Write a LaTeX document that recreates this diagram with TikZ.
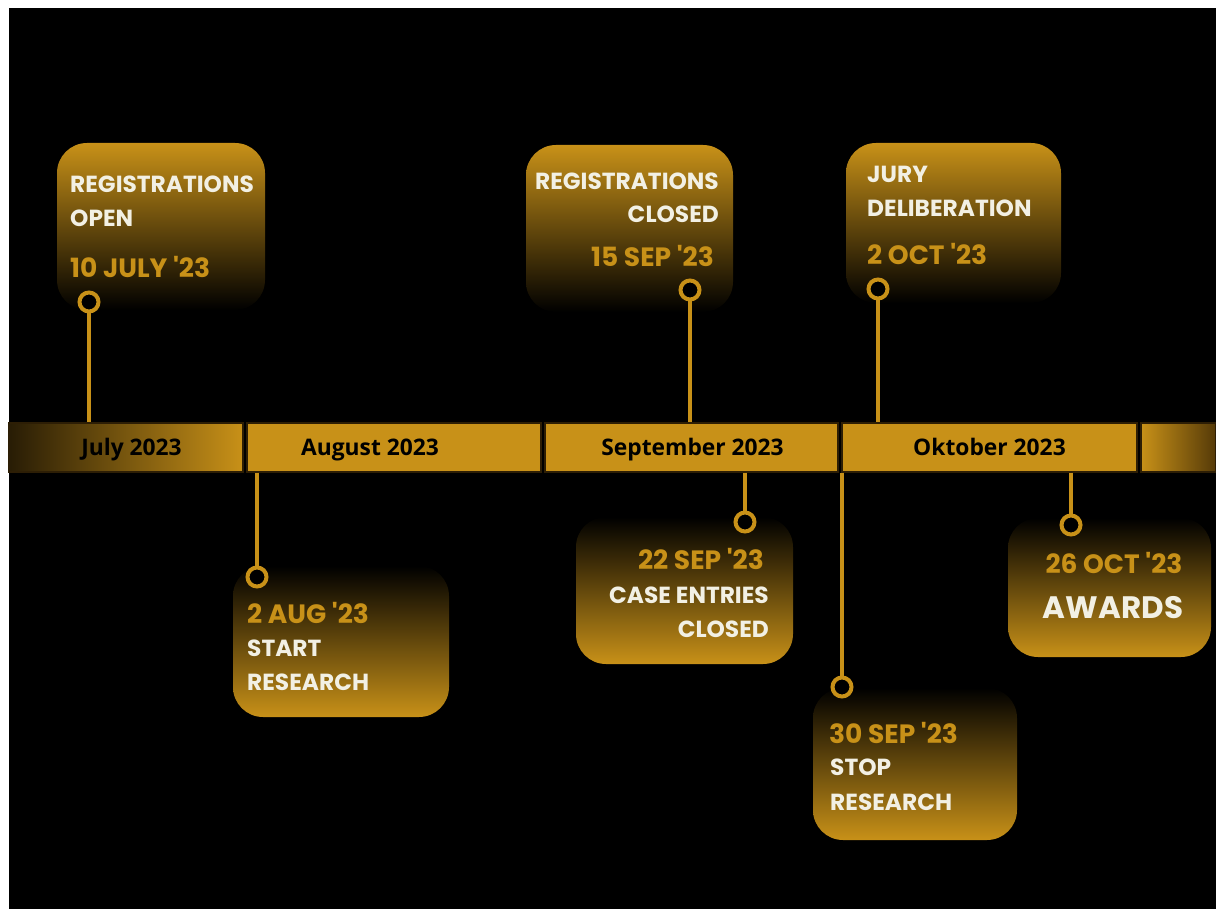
\documentclass[tikz,border=0pt]{standalone}
\usepackage{fontspec}
\newfontfamily\boxfont{Poppins}
\newfontfamily\monthfont{Open Sans}
\definecolor{gold}{RGB}{200,145,24}
\definecolor{rim}{RGB}{45,30,5}
\definecolor{ink}{RGB}{242,240,228}
\definecolor{fadeL}{RGB}{40,28,5}
\definecolor{fadeR}{RGB}{85,58,8}

\begin{document}
\begin{tikzpicture}[x=1pt,y=-1pt,
    upbox/.style ={rounded corners=30pt, top color=gold, bottom color=black, inner sep=0pt},
    lowbox/.style ={rounded corners=30pt, top color=black, bottom color=gold, inner sep=0pt},
    month/.style ={draw=rim, line width=1.2pt, minimum height=49pt, inner sep=0pt},
    monthtext/.style ={font=\monthfont\bfseries\fontsize{22.8}{22.8}\selectfont, text=black, anchor=base, inner sep=0pt},
    hook/.style ={circle, draw=gold, line width=4pt, fill=black, minimum size=19pt, inner sep=0pt},
    stem/.style ={gold, line width=4pt},
    what/.style ={font=\boxfont\bfseries\fontsize{23.3}{23.3}\selectfont, text=ink, inner sep=0pt},
    when/.style ={font=\boxfont\bfseries\fontsize{26.5}{26.5}\selectfont, text=gold, inner sep=0pt}]
   \useasboundingbox (0,0) rectangle (1216,909);
   \fill[white] (0,0) rectangle (1216,909);
   \fill[black] (9,8) rectangle (1216,909);
   % boxes above the bar
   \node[upbox, minimum width=208pt, minimum height=167pt] (b1) at (161,226.5) {};
   \node[upbox, minimum width=207pt, minimum height=167pt] (b2) at (629.5,228.5) {};
   \node[upbox, minimum width=215pt, minimum height=160pt] (b3) at (953.5,223) {};
   % boxes below the bar
   \node[lowbox, minimum width=216pt, minimum height=151pt] (b4) at (341,641.5) {};
   \node[lowbox, minimum width=217pt, minimum height=147pt] (b5) at (684.5,590.5) {};
   \node[lowbox, minimum width=204pt, minimum height=152pt] (b6) at (915,764) {};
   \node[lowbox, minimum width=203pt, minimum height=139pt] (b7) at (1109.5,587.5) {};
   % the bar
   \node[month, minimum width=234pt, left color=fadeL, right color=gold] (jul) at (126,447.5) {};
   \node[month, minimum width=294pt, fill=gold] (aug) at (394,447.5) {};
   \node[month, minimum width=293pt, fill=gold] (sep) at (691.5,447.5) {};
   \node[month, minimum width=295pt, fill=gold] (okt) at (989.5,447.5) {};
   \node[month, minimum width=75pt, left color=gold, right color=fadeR] (nov) at (1178.5,447.5) {};
   \node[monthtext] (julT) at (131.5,455) {July 2023};
   \node[monthtext] (augT) at (370,455) {August 2023};
   \node[monthtext] (sepT) at (692.5,455) {September 2023};
   \node[monthtext] (oktT) at (989.5,455) {Oktober 2023};
   % hooks and stems
   \node[hook] (h1) at (89,302) {};
   \node[hook] (h2) at (690,290) {};
   \node[hook] (h3) at (878,289) {};
   \node[hook] (h4) at (257,577) {};
   \node[hook] (h5) at (745,522) {};
   \node[hook] (h6) at (842,687) {};
   \node[hook] (h7) at (1071,525) {};
   \draw[stem] (h1) -- (h1 |- jul.north);
   \draw[stem] (h2) -- (h2 |- sep.north);
   \draw[stem] (h3) -- (h3 |- okt.north);
   \draw[stem] (h4 |- aug.south) -- (h4);
   \draw[stem] (h5 |- sep.south) -- (h5);
   \draw[stem] (h6 |- okt.south) -- (h6);
   \draw[stem] (h7 |- okt.south) -- (h7);
   % texts
   \node[what, anchor=base west] (t1a) at (70,193) {REGISTRATIONS};
   \node[what, anchor=base west] (t1b) at (70,227) {OPEN};
   \node[when, anchor=base west] (d1) at (70,278) {10 JULY '23};
   \node[what, anchor=base east] (t2a) at (719,190) {REGISTRATIONS};
   \node[what, anchor=base east] (t2b) at (719,223) {CLOSED};
   \node[when, anchor=base east] (d2) at (714,267) {15 SEP '23};
   \node[what, anchor=base west] (t3a) at (867,183) {JURY};
   \node[what, anchor=base west] (t3b) at (867,217) {DELIBERATION};
   \node[when, anchor=base west] (d3) at (867,265) {2 OCT '23};
   \node[when, anchor=base west] (d4) at (247,623) {2 AUG '23};
   \node[what, anchor=base west] (t4a) at (247,656) {START};
   \node[what, anchor=base west] (t4b) at (247,690) {RESEARCH};
   \node[when, anchor=base east] (d5) at (764,569) {22 SEP '23};
   \node[what, anchor=base east] (t5a) at (769,603) {CASE ENTRIES};
   \node[what, anchor=base east] (t5b) at (769,637) {CLOSED};
   \node[when, anchor=base west] (d6) at (829,743) {30 SEP '23};
   \node[what, anchor=base west] (t6a) at (830,775) {STOP};
   \node[what, anchor=base west] (t6b) at (830,810) {RESEARCH};
   \node[when, anchor=base] (d7) at (1114,573) {26 OCT '23};
   \node[what, anchor=base, font=\boxfont\bfseries\fontsize{31}{31}\selectfont] (t7) at (1113,618) {AWARDS};
 \end{tikzpicture}
\end{document}
